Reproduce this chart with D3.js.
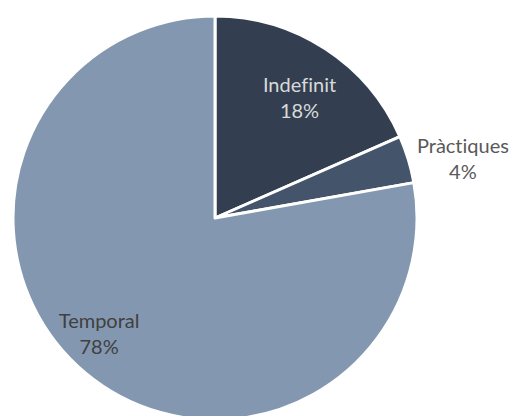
<!DOCTYPE html>
<html><head><meta charset="utf-8">
<script src="https://cdn.jsdelivr.net/npm/d3@7"></script>
<style>html,body{margin:0;padding:0;background:#fff;overflow:hidden}
text{font-variant-ligatures:none;font-feature-settings:"liga" 0,"clig" 0}</style>
</head><body>
<svg id="chart" width="510" height="416"></svg>
<script>
const categories = ["Indefinit", "Pràctiques", "Temporal"];
const values = [18.4, 3.8, 77.8];
const percentLabels = ["18%", "4%", "78%"];
const colors = ["#333F50", "#44546A", "#8497B0"];
const labelColors = ["#D9D9D9", "#595959", "#404040"];

const svg = d3.select("#chart");
const cx = 215, cy = 218, r = 202;
const g = svg.append("g").attr("transform", `translate(${cx},${cy})`);

const data = categories.map((c, i) => ({cat: c, value: values[i], pct: percentLabels[i], color: colors[i], lc: labelColors[i]}));
const pie = d3.pie().value(d => d.value).sort(null);
const arc = d3.arc().innerRadius(0).outerRadius(r);
const arcs = pie(data);

g.selectAll("path").data(arcs).join("path")
  .attr("d", arc)
  .attr("fill", d => d.data.color)
  .attr("stroke", "#fff")
  .attr("stroke-width", 3)
  .attr("stroke-linejoin", "round");

// label placement: radius fraction and angle offset (degrees) per slice
const labelRadius = [0.70, 1.254, 0.837];
const labelAngleOffset = [3.6, 5.1, 3.3];
arcs.forEach((a, i) => {
  const ang = (a.startAngle + a.endAngle) / 2 + labelAngleOffset[i] * Math.PI / 180;
  const lr = r * labelRadius[i];
  const x = Math.sin(ang) * lr, y = -Math.cos(ang) * lr;
  const t = g.append("text")
    .attr("text-anchor", "middle")
    .attr("font-family", "Lato, 'Open Sans', sans-serif")
    .attr("font-size", 20)
    .attr("fill", a.data.lc);
  t.append("tspan").attr("x", x).attr("y", y - 13).text(a.data.cat);
  t.append("tspan").attr("x", x).attr("y", y + 13).text(a.data.pct);
});
</script>
</body></html>
